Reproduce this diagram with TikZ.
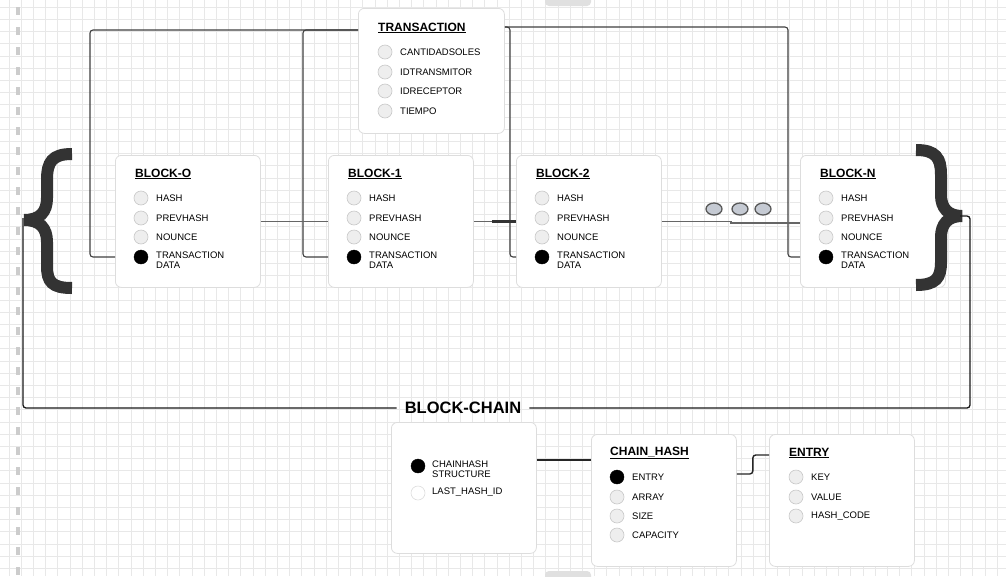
\documentclass[tikz,border=0pt]{standalone}
\usepackage{fontspec}
\setmainfont{Liberation Sans}
\usetikzlibrary{calc,shapes.geometric}
\definecolor{gridc}{HTML}{E8E8E8}
\definecolor{boxc}{HTML}{DDDDDD}
\definecolor{dotc}{HTML}{EEEEEE}
\definecolor{dotd}{HTML}{C8C8C8}
\definecolor{bracec}{HTML}{333333}
\definecolor{ellc}{HTML}{C5CAD3}
\tikzset{
  gridline/.style={gridc, line width=0.5pt},
  box/.style={draw=boxc, fill=white, rounded corners=6pt, line width=0.8pt, minimum width=145pt, minimum height=132pt, inner sep=0pt},
  ttl/.style={anchor=west, inner sep=0pt, font=\bfseries\fontsize{12}{14}\selectfont},
  itm/.style={anchor=west, inner sep=0pt, font=\fontsize{9.5}{10.5}\selectfont, align=left},
  dotw/.style={circle, draw=dotd, fill=dotc, minimum size=14pt, inner sep=0pt, line width=0.6pt},
  dotb/.style={circle, draw=black, fill=black, minimum size=14pt, inner sep=0pt},
  conn/.style={draw=black!75, line width=1.1pt, rounded corners=3pt},
  hconn/.style={draw=black!60, line width=1.4pt},
  bracestyle/.style={draw=bracec, line width=12pt},
  ell/.style={ellipse, draw=black!65, fill=ellc, line width=1.3pt, minimum width=16pt, minimum height=12pt, inner sep=0pt},
}
\newcommand\mkblock[4]{%
  \node[box, anchor=north west] (#1) at (#2,#3) {};
  \node[ttl] (#1t) at (#2+20,#3+19) {\underline{#4}};
  \node[dotw] (#1c1) at (#2+26,#3+43) {};
  \node[itm] (#1l1) at (#2+41,#3+43) {HASH};
  \node[dotw] (#1c2) at (#2+26,#3+63) {};
  \node[itm] (#1l2) at (#2+41,#3+63) {PREVHASH};
  \node[dotw] (#1c3) at (#2+26,#3+82) {};
  \node[itm] (#1l3) at (#2+41,#3+82) {NOUNCE};
  \node[dotb] (#1c4) at (#2+26,#3+102) {};
  \node[itm] (#1l4) at (#2+41,#3+105) {TRANSACTION\\DATA};
}
\begin{document}
\begin{tikzpicture}[x=1pt,y=-1pt]
\useasboundingbox (0,0) rectangle (1006,576);
\fill[white] (0,0) rectangle (1006,576);
% grid
\foreach \i in {0,...,82} \draw[gridline] (8.8+12.2*\i,0) -- (8.8+12.2*\i,576);
\foreach \j in {0,...,47} \draw[gridline] (0,7+12.2*\j) -- (1006,7+12.2*\j);
% page marks
\draw[black!20, line width=3.2pt, dash pattern=on 8pt off 12pt] (18,7) -- (18,576);
\fill[black!12, rounded corners=4pt] (545,-8) rectangle (591,6);
\fill[black!12, rounded corners=4pt] (545,571) rectangle (591,584);

% transaction
\node[box, anchor=north west, minimum height=125pt, minimum width=146pt] (tx) at (358,8) {};
\node[ttl] (txt) at (378,28) {\underline{TRANSACTION}};
\node[dotw] (txc1) at (385,52) {};
\node[itm] (txl1) at (400,52) {CANTIDADSOLES};
\node[dotw] (txc2) at (385,72) {};
\node[itm] (txl2) at (400,72) {IDTRANSMITOR};
\node[dotw] (txc3) at (385,91) {};
\node[itm] (txl3) at (400,91) {IDRECEPTOR};
\node[dotw] (txc4) at (385,111) {};
\node[itm] (txl4) at (400,111) {TIEMPO};
\coordinate (tl) at ([yshift=-22pt]tx.north west);
\coordinate (tr) at ([yshift=-19pt]tx.north east);

% blocks
\mkblock{b0}{115}{155}{BLOCK-O}
\mkblock{b1}{328}{155}{BLOCK-1}
\mkblock{b2}{516}{155}{BLOCK-2}
\mkblock{bn}{800}{155}{BLOCK-N}

% connectors to transaction
\draw[conn] (b0.west |- b0c4) -- ++(-25,0) |- (tl);
\draw[conn] (b1.west |- b1c4) -- ++(-25,0) |- (tl);
\draw[conn] (b2.west |- b2c4) -- ++(-6,0) |- (tr);
\draw[conn] (bn.west |- bnc4) -- ++(-12,0) |- (tr);

% block chain connectors
\draw[hconn] (b0.east) -- (b1.west);
\draw[hconn] (b1.east) -- (b2.west);
\draw[draw=black!80, line width=2.2pt] ([xshift=-24pt]b2.west) -- (b2.west);
\draw[hconn] (b2.east) -- ++(69,0) -- ++(0,1.5) -- ([yshift=-1.5pt]bn.west);
\node[ell] (e1) at (714,209) {};
\node[ell] (e2) at (740,209) {};
\node[ell] (e3) at (763,209) {};

% braces
\draw[bracestyle] (72,154) .. controls (52,154) and (47,162) .. (47,180) -- (47,198) .. controls (47,212) and (40,220) .. (24,220) .. controls (40,220) and (47,228) .. (47,242) -- (47,266) .. controls (47,282) and (52,288) .. (72,288);
\draw[bracestyle] (916,150) .. controls (936,150) and (941,158) .. (941,175) -- (941,195) .. controls (941,208) and (948,216) .. (962,216) .. controls (948,216) and (941,224) .. (941,237) -- (941,262) .. controls (941,278) and (936,285) .. (916,285);
\coordinate (lbt) at (23,218);
\coordinate (rbt) at (960,216);
\coordinate (rc) at (970,216);

% block-chain label and frame line
\node[inner sep=0pt, font=\bfseries\fontsize{16.5}{18}\selectfont] (bc) at (463,408) {BLOCK-CHAIN};
\draw[draw=black!90, line width=1.3pt, rounded corners=3pt] (lbt) |- ([xshift=-8pt]bc.west);
\draw[draw=black!90, line width=1.3pt, rounded corners=3pt] (rbt) -- (rc) |- ([xshift=8pt]bc.east);

% bottom boxes
\node[box, anchor=north west, minimum height=131pt] (bca) at (391,422) {};
\node[dotb] (bcac1) at (418,466) {};
\node[itm] (bcal1) at (432,469) {CHAINHASH\\STRUCTURE};
\node[dotw, fill=white, draw=boxc] (bcac2) at (418,493) {};
\node[itm] (bcal2) at (432,492) {LAST\_HASH\_ID};

\node[box, anchor=north west] (chh) at (591,434) {};
\node[ttl] (chht) at (610,453) {\underline{CHAIN\_HASH}};
\node[dotb] (chhc1) at (617,477) {};
\node[itm] (chhl1) at (632,477) {ENTRY};
\node[dotw] (chhc2) at (617,497) {};
\node[itm] (chhl2) at (632,497) {ARRAY};
\node[dotw] (chhc3) at (617,516) {};
\node[itm] (chhl3) at (632,516) {SIZE};
\node[dotw] (chhc4) at (617,535) {};
\node[itm] (chhl4) at (632,535) {CAPACITY};

\node[box, anchor=north west] (ent) at (769,434) {};
\node[ttl] (entt) at (789,453) {\underline{ENTRY}};
\node[dotw] (entc1) at (796,477) {};
\node[itm] (entl1) at (811,477) {KEY};
\node[dotw] (entc2) at (796,497) {};
\node[itm] (entl2) at (811,497) {VALUE};
\node[dotw] (entc3) at (796,516) {};
\node[itm] (entl3) at (811,516) {HASH\_CODE};

\coordinate (bcar) at ([yshift=-38pt]bca.north east);
\draw[hconn, draw=black!85] (bcar) -- (chh.west |- bcar);
\draw[conn, draw=black!85, line width=1.4pt] ([yshift=3pt]chh.east |- chhc1) -- ++(16,0) |- ([yshift=-2pt]ent.west |- entt);
\end{tikzpicture}
\end{document}
